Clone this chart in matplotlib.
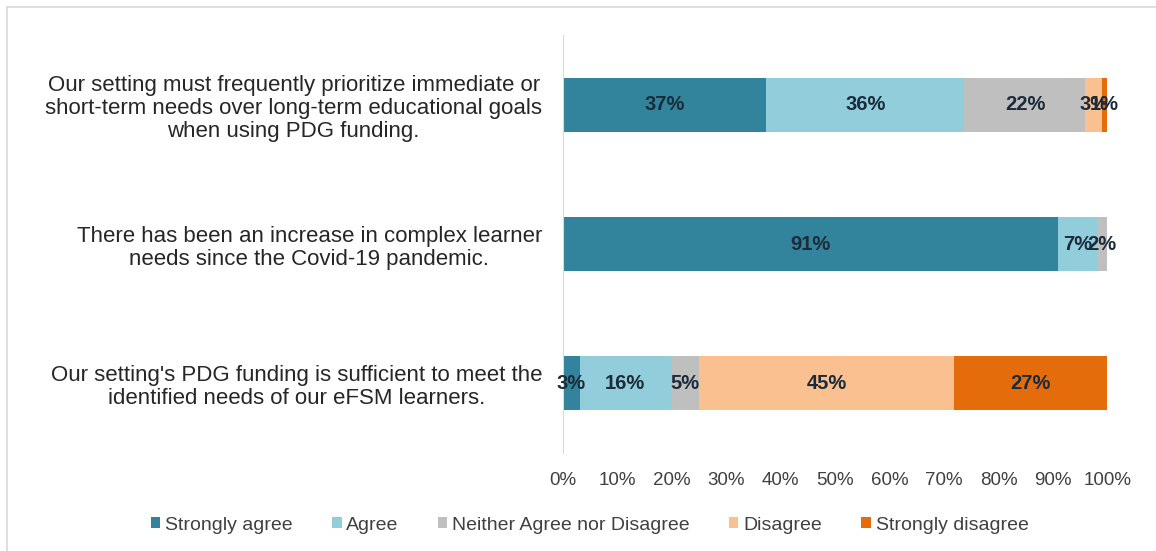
import numpy as np
import matplotlib.pyplot as plt
from matplotlib.patches import Rectangle

plt.rcParams['font.family'] = ['Liberation Sans', 'DejaVu Sans']

statements = [
    "Our setting must frequently prioritize immediate or\nshort-term needs over long-term educational goals\nwhen using PDG funding.",
    "There has been an increase in complex learner\nneeds since the Covid-19 pandemic.",
    "Our setting's PDG funding is sufficient to meet the\nidentified needs of our eFSM learners.",
]
responses = ["Strongly agree", "Agree", "Neither Agree nor Disagree",
             "Disagree", "Strongly disagree"]

strongly_agree = [37, 91, 3]
agree = [36, 7, 16]
neither = [22, 2, 5]
disagree = [3, 0, 45]
strongly_disagree = [1, 0, 27]

colors = ["#31849B", "#92CDDC", "#BFBFBF", "#FAC090", "#E46C0A"]

data = np.array([strongly_agree, agree, neither, disagree, strongly_disagree], dtype=float)
# 100% stacked: each row is scaled to its own total
shares = data / data.sum(axis=0) * 100

fig = plt.figure(figsize=(11.56, 5.51), dpi=100)
ax = fig.add_axes([0.487, 0.178, 0.471, 0.758])

y = np.arange(len(statements))
left = np.zeros(len(statements))
for k in range(len(responses)):
    ax.barh(y, shares[k], left=left, height=0.39, color=colors[k],
            label=responses[k])
    for i in range(len(statements)):
        if data[k, i] > 0:
            ax.text(left[i] + shares[k, i] / 2, y[i], "%d%%" % data[k, i],
                    ha='center', va='center', fontsize=14.5,
                    fontweight='bold', color="#1C2B3A")
    left += shares[k]

ax.set_xlim(0, 100)
ax.set_ylim(2.5, -0.5)
ax.set_xticks(np.arange(0, 101, 10))
ax.set_xticklabels(["%d%%" % v for v in range(0, 101, 10)])
ax.set_yticks(y)
ax.set_yticklabels(statements, multialignment='center', linespacing=1.15)
ax.tick_params(axis='x', length=0, pad=14, labelsize=13.5, labelcolor="#404040")
ax.tick_params(axis='y', length=0, pad=15, labelsize=16, labelcolor="#262626")

for s in ['top', 'right', 'bottom']:
    ax.spines[s].set_visible(False)
ax.spines['left'].set_color("#D9D9D9")

fig.legend(loc='center', bbox_to_anchor=(0.51, 1 - 525 / 551), ncol=5,
           frameon=False, fontsize=14, handlelength=0.5, handleheight=0.5,
           handletextpad=0.25, columnspacing=2.0, labelcolor="#404040")

fig.patches.append(Rectangle((7 / 1156, -0.05), 1.1, 1 - 7 / 551 + 0.05,
                             transform=fig.transFigure, fill=False,
                             edgecolor="#D9D9D9", linewidth=1.2))

fig.savefig("out.png", dpi=100)
